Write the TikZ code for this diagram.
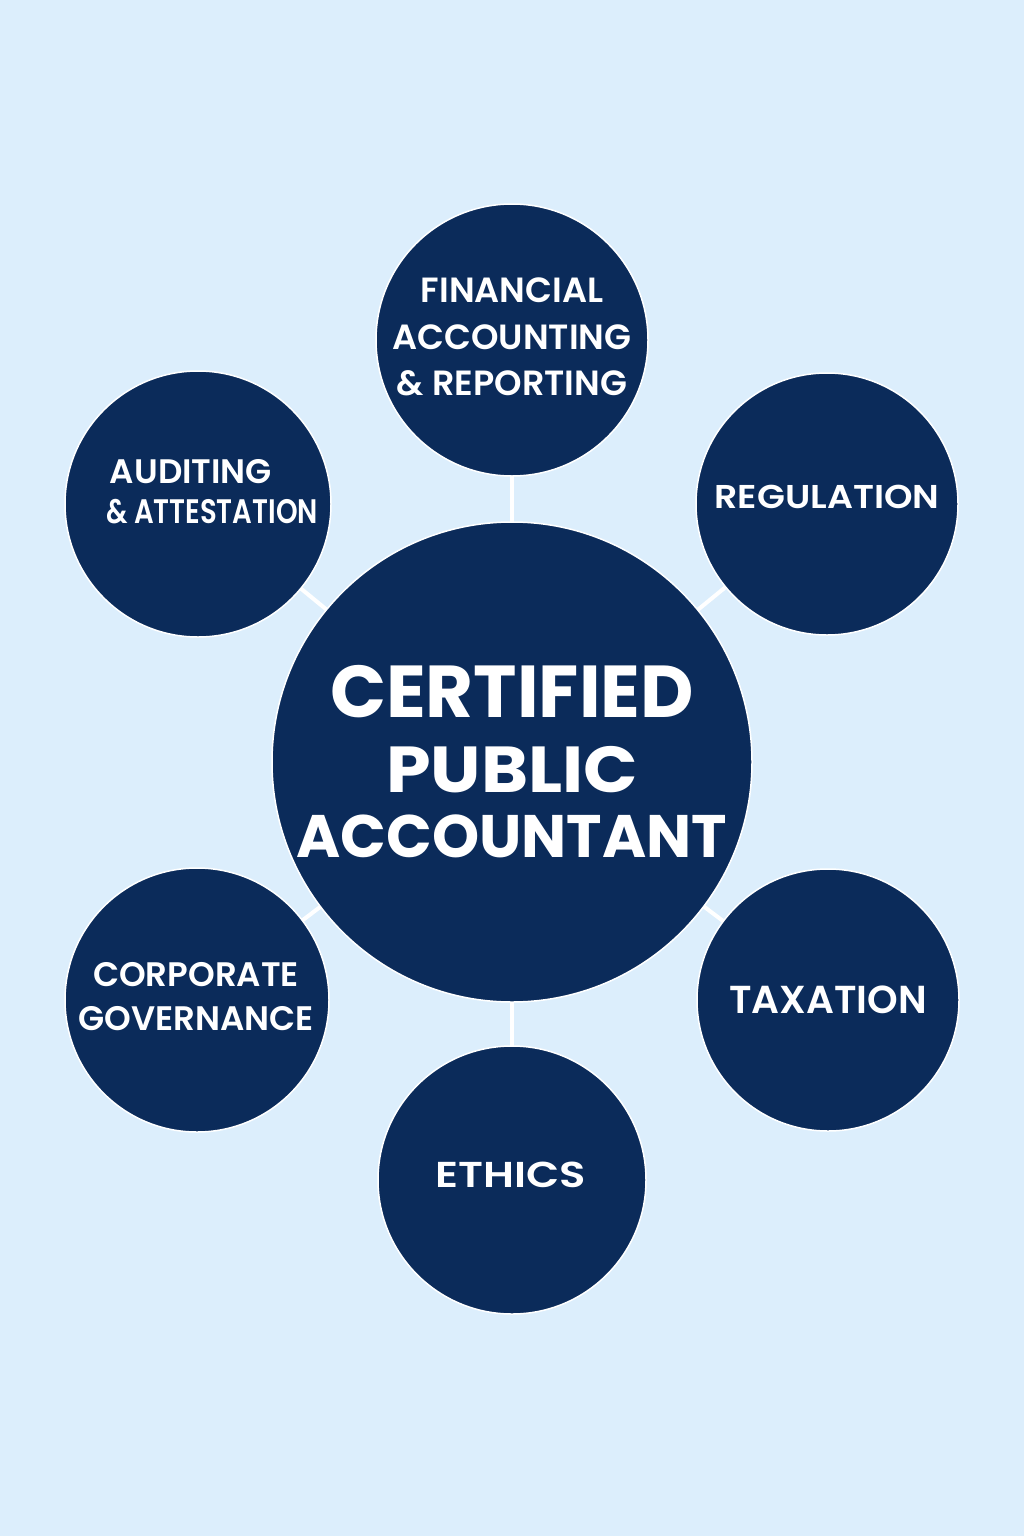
\documentclass[tikz,border=0pt]{standalone}
\usepackage{fontspec}
\setmainfont{Poppins}
\newfontfamily\cpabold{Poppins Bold}
\newfontfamily\cpasemi{Poppins SemiBold}
\definecolor{bgblue}{HTML}{DCEEFC}
\definecolor{navy}{HTML}{0B2B5A}
\begin{document}
\begin{tikzpicture}[x=1pt,y=-1pt,
  disc/.style={circle,fill=navy,draw=white,line width=1.5pt,inner sep=0pt,outer sep=0pt,minimum size=#1},
  hubtext/.style={inner sep=0pt,text=white,align=center,font=\cpabold\fontsize{68}{75}\selectfont},
  topictext/.style={inner sep=0pt,text=white,align=center,font=\cpasemi\fontsize{34}{#1}\selectfont},
  topictext/.default=46,
  link/.style={draw=white,line width=4pt}]
\fill[bgblue] (0,0) rectangle (1024,1536);
\useasboundingbox (0,0) rectangle (1024,1536);
% discs
\node[disc=480pt] (cpa) at (512,762) {};
\node[disc=272pt] (far) at (512,340) {};
\node[disc=266pt] (aud) at (198,504) {};
\node[disc=262pt] (reg) at (827,504) {};
\node[disc=264pt] (gov) at (197,1000) {};
\node[disc=262pt] (tax) at (828,1000) {};
\node[disc=268pt] (eth) at (512,1180) {};
% connectors
\foreach \t in {far,aud,reg,gov,tax,eth} \draw[link] (cpa) -- (\t);
% texts
\node[hubtext] (cpat) at (512,761.5)
  {{\fontsize{73.5}{75}\selectfont CERTIFIED}\\{\addfontfeature{FakeStretch=1.1}\fontsize{65}{75}\selectfont PUBLIC}\\[-10pt]{\fontsize{60}{75}\selectfont ACCOUNTANT}};
\node[topictext=46.5,font=\cpasemi\fontsize{35}{46.5}\selectfont] (fart) at (512,337)
  {FINANCIAL\\ACCOUNTING\\\& REPORTING};
\node[topictext=40] (audt) at (212,492)
  {AUDITING\hspace*{42pt}\\{\addfontfeature{FakeStretch=0.81}\& ATTESTATION}};
\node[topictext,font=\cpasemi\addfontfeature{FakeStretch=1.1}\fontsize{33}{40}\selectfont] (regt) at (827,497) {REGULATION};
\node[topictext=44] (govt) at (196,996.5) {CORPORATE\\GOVERNANCE};
\node[topictext,font=\cpasemi\fontsize{39}{46}\selectfont] (taxt) at (828,999.5) {TAXATION};
\node[topictext,font=\cpasemi\addfontfeature{FakeStretch=1.2}\fontsize{36}{46}\selectfont] (etht) at (511,1175) {ETHICS};
\end{tikzpicture}
\end{document}
